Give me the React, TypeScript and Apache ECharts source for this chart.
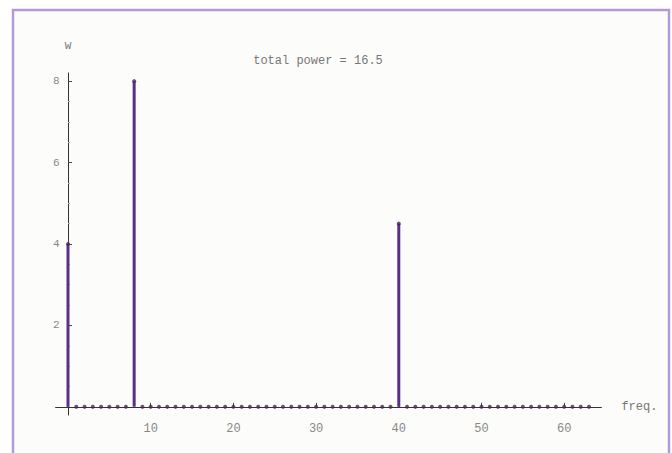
import React, { useEffect, useRef } from "react";
import * as echarts from "echarts";

const freqs: number[] = Array.from({ length: 64 }, (_, i) => i);
const powerAt: Record<number, number> = { 0: 4.0, 8: 8.0, 40: 4.5 };
const powers: number[] = freqs.map((f) => powerAt[f] ?? 0);
const xTicks: number[] = [10, 20, 30, 40, 50, 60];
const yTicks: number[] = [2, 4, 6, 8];
const titleText = "total power = 16.5";
const xName = "freq.";
const yName = "W";

export default function App() {
  const ref = useRef<HTMLDivElement>(null);
  useEffect(() => {
    if (!ref.current) return;
    const chart = echarts.init(ref.current, undefined, { renderer: "svg" });
    const mono = "'Liberation Mono', 'DejaVu Sans Mono', monospace";
    const stems = freqs.map((f, i) => [f, powers[i]]).filter((d) => d[1] > 0);
    const dots = freqs.map((f, i) => [f, powers[i]]);
    chart.setOption({
      animation: false,
      backgroundColor: "#ffffff",
      graphic: [
        {
          type: "rect",
          z: -10,
          shape: { x: 13, y: 10, width: 656, height: 452 },
          style: { fill: "#fcfcfa", stroke: "#b59bd6", lineWidth: 2.5 },
        },
      ],
      title: {
        text: titleText,
        left: 313,
        top: 50,
        textAlign: "center",
        textStyle: { fontFamily: mono, fontSize: 12, fontWeight: "normal", color: "#777" },
      },
      grid: { left: 55.6, right: 70.6, top: 73, bottom: 38 },
      xAxis: {
        type: "value",
        min: -1.5,
        max: 64.5,
        splitNumber: 7,
        name: xName,
        nameLocation: "end",
        nameGap: 20,
        nameTextStyle: { fontFamily: mono, fontSize: 12, color: "#777", verticalAlign: "middle", padding: [4, 0, 0, 0] },
        axisLine: { show: true, onZero: true, lineStyle: { color: "#333", width: 1 } },
        axisTick: { show: true, inside: true, length: 4, customValues: xTicks, lineStyle: { color: "#444" } },
        minorTick: { show: false },
        splitLine: { show: false },
        axisLabel: {
          margin: 8,
          fontFamily: mono,
          fontSize: 12,
          color: "#888",
          customValues: xTicks,
        },
      },
      yAxis: {
        type: "value",
        min: -0.2,
        max: 8.2,
        splitNumber: 4,
        name: yName,
        nameLocation: "end",
        nameGap: 22,
        nameTextStyle: { fontFamily: mono, fontSize: 11, color: "#777", align: "center" },
        axisLine: { show: true, onZero: true, lineStyle: { color: "#333", width: 1 } },
        axisTick: { show: true, inside: true, length: 4, customValues: yTicks, lineStyle: { color: "#444" } },
        minorTick: { show: true, splitNumber: 4, length: 2, lineStyle: { color: "#aaa" } },
        splitLine: { show: false },
        axisLabel: {
          margin: -4,
          fontFamily: mono,
          fontSize: 11,
          color: "#888",
          customValues: yTicks,
        },
      },
      series: [
        {
          type: "bar",
          data: stems,
          barWidth: 3,
          itemStyle: { color: "#5b2e8c" },
          z: 3,
        },
        {
          type: "scatter",
          data: dots,
          symbol: "circle",
          symbolSize: 4,
          itemStyle: { color: "#4a2352" },
          z: 4,
        },
      ],
    });
    return () => chart.dispose();
  }, []);
  return (
    <div
      ref={ref}
      style={{ position: "fixed", left: 0, top: 0, width: 672, height: 453 }}
    />
  );
}
